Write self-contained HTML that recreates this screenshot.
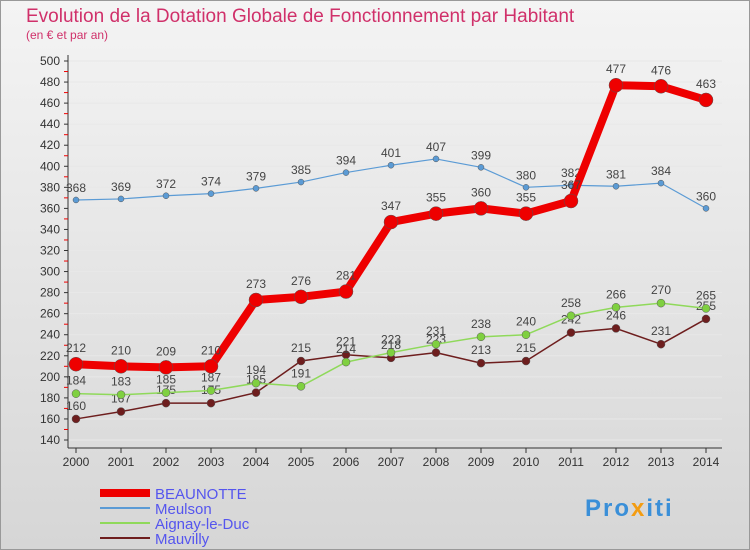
<!DOCTYPE html>
<html><head><meta charset="utf-8">
<style>
body{margin:0;width:750px;height:550px;overflow:hidden;font-family:"Liberation Sans",sans-serif}
#c{position:absolute;left:0;top:0}
</style></head>
<body>
<svg id="c" width="750" height="550" xmlns="http://www.w3.org/2000/svg">
<defs>
<linearGradient id="bg" x1="0" y1="0" x2="0" y2="1"><stop offset="0" stop-color="#f4f4f4"/><stop offset="1" stop-color="#d6d6d6"/></linearGradient>
</defs>
<rect x="0.5" y="0.5" width="749" height="549" fill="url(#bg)" stroke="#999"/>
<text x="26" y="22" font-size="19" fill="#d0306a">Evolution de la Dotation Globale de Fonctionnement par Habitant</text>
<text x="26" y="39" font-size="12" fill="#d0306a">(en € et par an)</text>
<g id="grid"></g><g id="axes"></g><g id="series"></g>
<g>
<line x1="100" y1="493" x2="150" y2="493" stroke="#ee0000" stroke-width="8"/>
<text x="155" y="499" font-size="15" fill="#5555ee">BEAUNOTTE</text>
<line x1="100" y1="508" x2="150" y2="508" stroke="#5b9bd5" stroke-width="2"/>
<text x="155" y="514" font-size="15" fill="#5555ee">Meulson</text>
<line x1="100" y1="523" x2="150" y2="523" stroke="#8fd95a" stroke-width="2"/>
<text x="155" y="529" font-size="15" fill="#5555ee">Aignay-le-Duc</text>
<line x1="100" y1="538" x2="150" y2="538" stroke="#6e1e1e" stroke-width="2"/>
<text x="155" y="544" font-size="15" fill="#5555ee">Mauvilly</text>
</g>
<text x="585" y="516" font-size="24" font-weight="bold" letter-spacing="2"><tspan fill="#3a8fd8">Pro</tspan><tspan fill="#f39c12">x</tspan><tspan fill="#3a8fd8">iti</tspan></text>
</svg>
<script>
const years=[2000,2001,2002,2003,2004,2005,2006,2007,2008,2009,2010,2011,2012,2013,2014];
const yTicks=[140,160,180,200,220,240,260,280,300,320,340,360,380,400,420,440,460,480,500];
const beaunotte=[212,210,209,210,273,276,281,347,355,360,355,367,477,476,463];
const meulson=[368,369,372,374,379,385,394,401,407,399,380,382,381,384,360];
const aignay=[184,183,185,187,194,191,214,223,231,238,240,258,266,270,265];
const mauvilly=[160,167,175,175,185,215,221,218,223,213,215,242,246,231,255];
const NS="http://www.w3.org/2000/svg";
const X=i=>76+i*45, Y=v=>61+(500-v)*379/360;
function mk(p,t,a){const e=document.createElementNS(NS,t);for(const k in a)e.setAttribute(k,a[k]);p.appendChild(e);return e;}
const ax=document.getElementById('axes'),gr=document.getElementById('grid'),se=document.getElementById('series');
let l=mk(ax,'line',{x1:68,y1:55,x2:68,y2:448,stroke:'#333'});


l=mk(ax,'line',{x1:68,y1:448,x2:722,y2:448,stroke:'#333'});


for(let v=140;v<=500;v+=10){const t=mk(ax,'line',{x1:64,y1:Y(v),x2:68,y2:Y(v),stroke:v%20?'#e00':'#333'});

}
yTicks.forEach(v=>{const t=mk(ax,'text',{x:60,y:Y(v)+4,'font-size':12,'text-anchor':'end',fill:'#333'});t.textContent=v;


const g=mk(gr,'line',{x1:68,y1:Y(v),x2:722,y2:Y(v),stroke:'#e8e8e8'});

});
years.forEach((y,i)=>{const t=mk(ax,'text',{x:X(i),y:466,'font-size':12,'text-anchor':'middle',fill:'#333'});t.textContent=y;


const k=mk(ax,'line',{x1:X(i),y1:448,x2:X(i),y2:453,stroke:'#333'});

});
function draw(name,data,color,w,r,dot){
const g=mk(se,'g',{});


const p=mk(g,'polyline',{points:data.map((v,i)=>X(i)+','+Y(v)).join(' '),fill:'none',stroke:color,'stroke-width':w,'stroke-linejoin':'round'});


data.forEach((v,i)=>{const c=mk(g,'circle',{cx:X(i),cy:Y(v),r:r,fill:dot,stroke:'#555','stroke-width':0.5});


const t=mk(g,'text',{x:X(i),y:Y(v)-r-5,'font-size':12,'text-anchor':'middle',fill:'#444'});t.textContent=v;

});}
draw('mauvilly',mauvilly,'#6e1e1e',1.5,4,'#6e1e1e');
draw('aignay',aignay,'#8fd95a',1.5,4,'#7fd040');
draw('meulson',meulson,'#5b9bd5',1.2,3,'#5b9bd5');
draw('beaunotte',beaunotte,'#ee0000',8,7,'#ee0000');
</script>
</body></html>
